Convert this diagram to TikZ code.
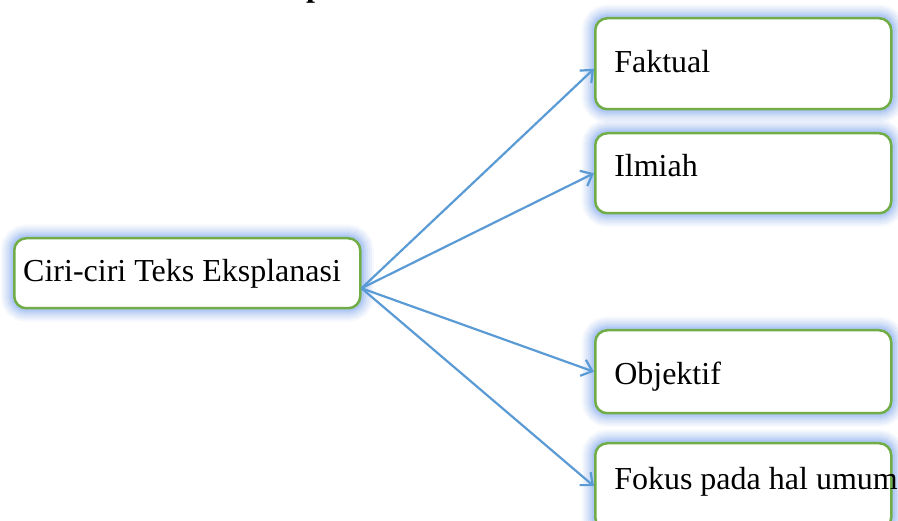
\documentclass[tikz,border=0pt]{standalone}
\usepackage{fontspec}
\setmainfont{Liberation Serif}
\usetikzlibrary{arrows.meta}

\definecolor{garis}{HTML}{70AD47}
\definecolor{panah}{HTML}{5B9BD5}
\definecolor{sinar}{HTML}{8AB0F2}

\tikzset{
    kotak/.style={rectangle, draw=garis, line width=2.5pt, fill=white,
        rounded corners=12pt, anchor=north west, inner ysep=0pt, align=flush left,
        font=\fontsize{32}{38}\selectfont,
        preaction={draw=sinar, fill=none, line width=27pt, draw opacity=0.08},
        preaction={draw=sinar, fill=none, line width=23pt, draw opacity=0.1},
        preaction={draw=sinar, fill=none, line width=19pt, draw opacity=0.12},
        preaction={draw=sinar, fill=none, line width=15pt, draw opacity=0.15},
        preaction={draw=sinar, fill=none, line width=11pt, draw opacity=0.2},
        preaction={draw=sinar, fill=none, line width=7pt, draw opacity=0.3}},
    cabang/.style={kotak, inner xsep=19pt, text width=258pt},
    panahci/.style={-{Straight Barb[length=10pt,width=17pt]}, draw=panah, line width=2.2pt}
}

\begin{document}
\begin{tikzpicture}[x=1pt, y=-1pt]
    \useasboundingbox[fill=white] (0,0) rectangle (898,521);

    \node[anchor=base west, inner sep=0pt, font=\fontsize{32}{38}\selectfont\bfseries] (judul) at (306,-3) {p};

    \node[kotak, inner xsep=9pt, text width=328pt, text height=43pt, text depth=27pt] (ciri) at (13,237) {Ciri-ciri Teks Eksplanasi};
    \node[cabang, text height=54pt, text depth=37pt] (faktual) at (594,17) {Faktual};
    \node[cabang, text height=43pt, text depth=37pt] (ilmiah) at (594,132) {Ilmiah};
    \node[cabang, text height=54pt, text depth=29pt] (objektif) at (594,329) {Objektif};
    \node[cabang, text height=46pt, text depth=40pt] (fokus) at (594,442) {\mbox{Fokus pada hal umum}};

    \coordinate (pangkal) at ([yshift=-15pt]ciri.east);

    \draw[panahci] (pangkal) -- ([yshift=-5pt]faktual.west);
    \draw[panahci] (pangkal) -- (ilmiah.west);
    \draw[panahci] (pangkal) -- (objektif.west);
    \draw[panahci] (pangkal) -- (fokus.west);
\end{tikzpicture}
\end{document}
